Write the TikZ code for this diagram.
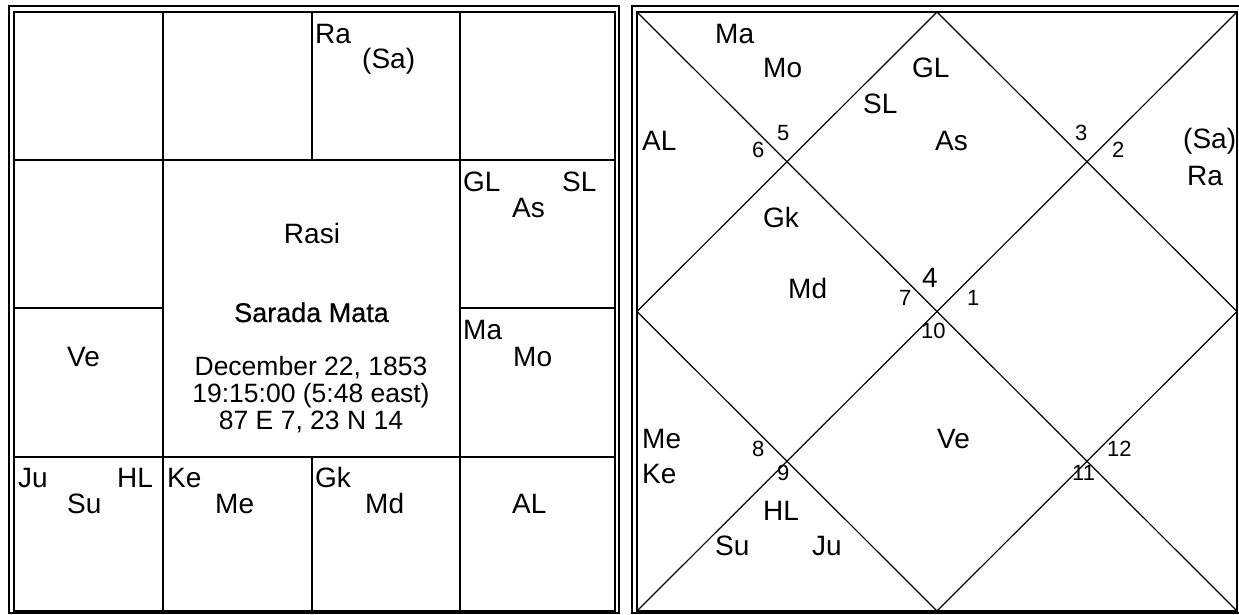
\documentclass[tikz,border=0pt]{standalone}
\usepackage{fontspec}
\setmainfont{Liberation Sans}
\newfontfamily\namefont{Liberation Sans}[FakeBold=0.6]
\tikzset{
  pl/.style={inner sep=0pt, anchor=base west, font=\fontsize{28}{30}\selectfont},
  num/.style={inner sep=0pt, anchor=base west, font=\fontsize{22}{24}\selectfont},
  info/.style={inner sep=0pt, anchor=base, font=\fontsize{26.5}{28}\selectfont},
  frame/.style={line width=2.5pt},
  gridline/.style={line width=1.6pt},
  diag/.style={line width=1.2pt}
}
\begin{document}
\begin{tikzpicture}[x=1pt, y=-1pt]
  \useasboundingbox (0,0) rectangle (1239,614);

  % rasi chart, south style
  \draw[frame] (9,6) rectangle (619,613);
  \draw[gridline] (14,12) rectangle (615,611);
  \draw[gridline] (163,12) -- (163,611);
  \draw[gridline] (460,12) -- (460,611);
  \draw[gridline] (312,12) -- (312,160);
  \draw[gridline] (312,457) -- (312,611);
  \draw[gridline] (14,160) -- (615,160);
  \draw[gridline] (14,457) -- (615,457);
  \draw[gridline] (14,308) -- (163,308);
  \draw[gridline] (460,308) -- (615,308);

  \node[pl] (sRa) at (315,43) {Ra};
  \node[pl] (sSa) at (362,68) {(Sa)};
  \node[pl] (sGL) at (463,191) {GL};
  \node[pl] (sSL) at (562,191) {SL};
  \node[pl] (sAs) at (512,217) {As};
  \node[pl] (sMa) at (463,339) {Ma};
  \node[pl] (sMo) at (513,366) {Mo};
  \node[pl] (sVe) at (67,366) {Ve};
  \node[pl] (sJu) at (18,487) {Ju};
  \node[pl] (sHL) at (117,487) {HL};
  \node[pl] (sSu) at (67,513) {Su};
  \node[pl] (sKe) at (167,487) {Ke};
  \node[pl] (sMe) at (215,513) {Me};
  \node[pl] (sGk) at (315,487) {Gk};
  \node[pl] (sMd) at (365,513) {Md};
  \node[pl] (sAL) at (512,513) {AL};

  \node[info, font=\fontsize{28}{30}\selectfont] (title) at (312,243) {Rasi};
  \node[info, font=\namefont\fontsize{27}{30}\selectfont] (name) at (311.5,322) {Sarada Mata};
  \node[info] (date) at (311,375) {December 22, 1853};
  \node[info] (time) at (311,402) {19:15:00 (5:48 east)};
  \node[info] (place) at (311,429) {87 E 7, 23 N 14};

  % north style chart
  \coordinate (nw) at (637,12);
  \coordinate (ne) at (1237,12);
  \coordinate (sw) at (637,611);
  \coordinate (se) at (1237,611);
  \coordinate (n) at (937,12);
  \coordinate (e) at (1237,311.5);
  \coordinate (s) at (937,611);
  \coordinate (w) at (637,311.5);
  \draw[frame] (632,6) rectangle (1243,613);
  \draw[gridline] (nw) rectangle (se);
  \draw[diag] (nw) -- (se);
  \draw[diag] (ne) -- (sw);
  \draw[diag] (n) -- (e) -- (s) -- (w) -- cycle;

  \node[pl] (nMa) at (715,43) {Ma};
  \node[pl] (nMo) at (763,77) {Mo};
  \node[pl] (nGL) at (912,77) {GL};
  \node[pl] (nSL) at (863,113) {SL};
  \node[pl] (nAL) at (642,150) {AL};
  \node[pl] (nAs) at (935,150) {As};
  \node[pl] (nSa) at (1183,148) {(Sa)};
  \node[pl] (nRa) at (1187,185) {Ra};
  \node[pl] (nGk) at (763,227) {Gk};
  \node[pl] (nMd) at (788,298) {Md};
  \node[pl] (nMe) at (642,448) {Me};
  \node[pl] (nKe) at (642,483) {Ke};
  \node[pl] (nHL) at (763,520) {HL};
  \node[pl] (nSu) at (715,555) {Su};
  \node[pl] (nJu) at (812,555) {Ju};
  \node[pl] (nVe) at (937,448) {Ve};

  \node[num] (h5) at (777,140) {5};
  \node[num] (h6) at (752,157) {6};
  \node[num] (h3) at (1075,140) {3};
  \node[num] (h2) at (1112,157) {2};
  \node[pl] (h4) at (922,287) {4};
  \node[num] (h7) at (899,305) {7};
  \node[num] (h1) at (967,305) {1};
  \node[num] (h10) at (921,338) {10};
  \node[num] (h8) at (752,456) {8};
  \node[num] (h9) at (777,480) {9};
  \node[num] (h12) at (1107,456) {12};
  \node[num] (h11) at (1072,480) {11};
\end{tikzpicture}
\end{document}
